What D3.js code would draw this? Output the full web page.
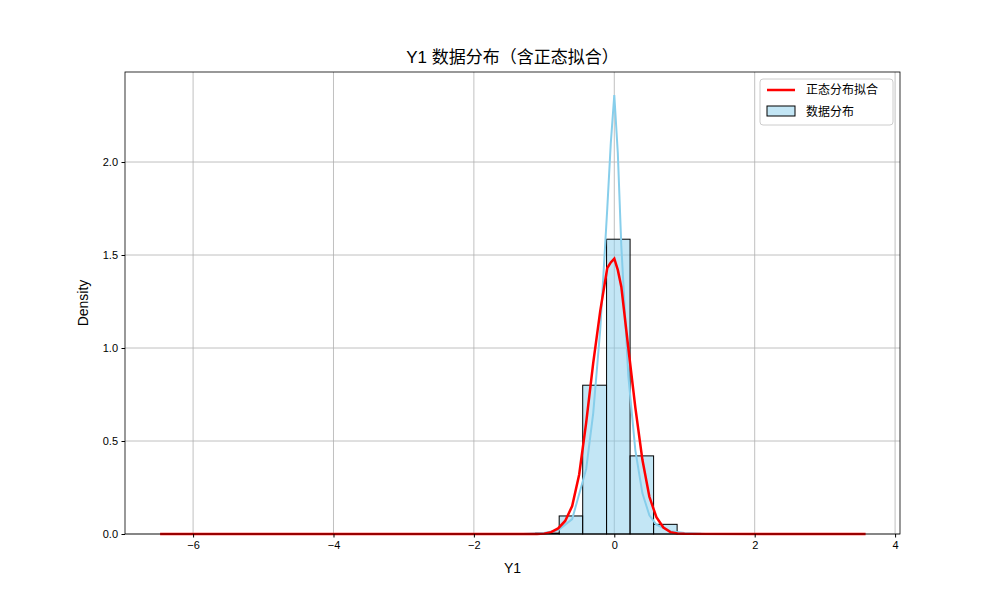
<!DOCTYPE html>
<html><head><meta charset="utf-8">
<script src="https://cdn.jsdelivr.net/npm/d3@7"></script>
<style>body{margin:0;background:#fff}svg{font-family:"Liberation Sans","Noto Sans CJK SC",sans-serif}</style>
</head><body><svg id="chart" width="1000" height="600"></svg>
<script>
const binEdges = [-1.12, -0.785, -0.45, -0.11, 0.225, 0.56, 0.895, 1.23];
const binDensity = [0.005, 0.097, 0.80, 1.585, 0.42, 0.052, 0.003];
const kdeX = [-1.3, -1.0, -0.8, -0.6, -0.4, -0.3, -0.2, -0.1, -0.05, 0, 0.05, 0.1, 0.2, 0.3, 0.4, 0.5, 0.6, 0.8, 1.0, 1.3];
const kdeY = [0, 0.005, 0.02, 0.08, 0.35, 0.65, 1.1, 1.75, 2.1, 2.36, 2.05, 1.55, 0.85, 0.45, 0.22, 0.1, 0.05, 0.015, 0.005, 0];
const fitX = [-6.47, -1.1, -1.0, -0.9, -0.8, -0.7, -0.6, -0.5, -0.4, -0.3, -0.2, -0.1, -0.05, 0.0, 0.05, 0.1, 0.2, 0.3, 0.4, 0.5, 0.6, 0.7, 0.8, 0.9, 1.0, 3.58];
const fitY = [0, 0, 0.002, 0.01, 0.03, 0.07, 0.15, 0.32, 0.6, 0.92, 1.2, 1.43, 1.46, 1.48, 1.42, 1.33, 1.0, 0.68, 0.4, 0.2, 0.09, 0.035, 0.01, 0.003, 0.001, 0];
const xTicks = [-6, -4, -2, 0, 2, 4];
const yTicks = [0, 0.5, 1.0, 1.5, 2.0];

const svg = d3.select("#chart");
const L = 125, R = 900, T = 72, B = 534;
const x = d3.scaleLinear().domain([-6.97, 4.07]).range([L, R]);
const y = d3.scaleLinear().domain([0, 2.484]).range([B, T]);

// grid
svg.append("g").selectAll("line").data(xTicks).join("line")
  .attr("x1", d => x(d)).attr("x2", d => x(d)).attr("y1", T).attr("y2", B)
  .attr("stroke", "#b0b0b0").attr("stroke-width", 0.8);
svg.append("g").selectAll("line").data(yTicks).join("line")
  .attr("x1", L).attr("x2", R).attr("y1", d => y(d)).attr("y2", d => y(d))
  .attr("stroke", "#b0b0b0").attr("stroke-width", 0.8);

// histogram
svg.append("g").selectAll("rect").data(binDensity).join("rect")
  .attr("x", (d, i) => x(binEdges[i])).attr("width", (d, i) => x(binEdges[i + 1]) - x(binEdges[i]))
  .attr("y", d => y(d)).attr("height", d => B - y(d))
  .attr("fill", "rgba(135,206,235,0.5)").attr("stroke", "#000").attr("stroke-width", 1);

const line = d3.line().x(d => x(d[0])).y(d => y(d[1]));
svg.append("path").datum(d3.zip(kdeX, kdeY)).attr("d", line)
  .attr("fill", "none").attr("stroke", "skyblue").attr("stroke-width", 2);
svg.append("path").datum(d3.zip(fitX, fitY)).attr("d", line)
  .attr("fill", "none").attr("stroke", "red").attr("stroke-width", 2.5);

// axes
const xa = svg.append("g").attr("transform", `translate(0,${B})`)
  .call(d3.axisBottom(x).tickValues(xTicks).tickSize(3.5).tickPadding(3.5).tickFormat(d => d < 0 ? "\u2212" + (-d) : d));
const ya = svg.append("g").attr("transform", `translate(${L},0)`)
  .call(d3.axisLeft(y).tickValues(yTicks).tickSize(3.5).tickPadding(3.5).tickFormat(d3.format(".1f")));
[xa, ya].forEach(g => { g.select(".domain").remove(); g.selectAll("text").attr("font-size", 11).attr("fill", "#000").attr("font-family", "Liberation Sans"); });
svg.append("rect").attr("x", L).attr("y", T).attr("width", R - L).attr("height", B - T)
  .attr("fill", "none").attr("stroke", "#000").attr("stroke-width", 0.8);

svg.append("text").attr("x", (L + R) / 2).attr("y", 63).attr("text-anchor", "middle")
  .attr("font-size", 17).text("Y1 数据分布（含正态拟合）");
svg.append("text").attr("x", (L + R) / 2).attr("y", 573).attr("text-anchor", "middle")
  .attr("font-size", 14).text("Y1");
svg.append("text").attr("transform", `translate(88,${(T + B) / 2}) rotate(-90)`).attr("text-anchor", "middle")
  .attr("font-size", 14).text("Density");

// legend
const lg = svg.append("g").attr("transform", "translate(760,79)");
lg.append("rect").attr("width", 133).attr("height", 46).attr("rx", 3)
  .attr("fill", "#fff").attr("stroke", "#ccc");
lg.append("line").attr("x1", 7).attr("x2", 35).attr("y1", 11).attr("y2", 11).attr("stroke", "red").attr("stroke-width", 2.5);
lg.append("rect").attr("x", 7).attr("y", 27).attr("width", 28).attr("height", 10)
  .attr("fill", "rgba(135,206,235,0.5)").attr("stroke", "#000");
lg.append("text").attr("x", 46).attr("y", 15).attr("font-size", 12).text("正态分布拟合");
lg.append("text").attr("x", 46).attr("y", 37).attr("font-size", 12).text("数据分布");
</script></body></html>
